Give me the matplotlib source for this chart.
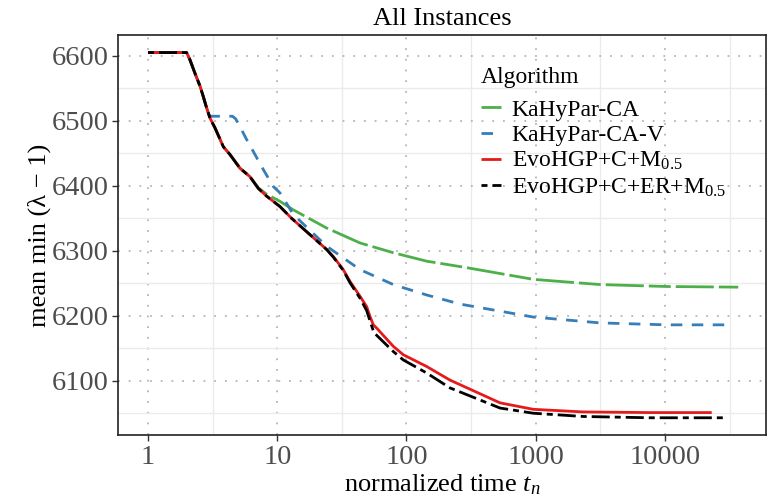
import matplotlib
matplotlib.use("Agg")
import matplotlib.pyplot as plt

plt.rcParams["font.family"] = ["Liberation Serif", "DejaVu Serif"]
plt.rcParams["mathtext.fontset"] = "custom"
plt.rcParams["mathtext.rm"] = "Liberation Serif"
plt.rcParams["mathtext.it"] = "Liberation Serif:italic"
plt.rcParams["mathtext.bf"] = "Liberation Serif:bold"
plt.rcParams["lines.scale_dashes"] = False

# ---- data: normalized time vs. mean min (lambda - 1) ----
ka_ca_t = [1.0, 1.99, 2.11, 2.31, 2.53, 2.68, 2.84, 3.02, 3.30, 3.83, 4.31, 5.15,
           6.15, 7.13, 8.28, 10.5, 13.3, 24.1, 43.7, 79, 143, 292, 958, 3140,
           10300, 36900]
ka_ca_v = [6605, 6605, 6594, 6573, 6553, 6537, 6520, 6504, 6489, 6460, 6448, 6427,
           6414, 6397, 6387, 6376, 6363, 6335, 6312, 6297, 6284, 6274, 6256, 6248,
           6245, 6244]

ka_cav_t = [1.0, 1.99, 2.11, 2.31, 2.53, 2.68, 2.84, 3.02, 4.5, 4.77, 5.15, 5.80,
            6.73, 7.80, 9.31, 10.5, 11.8, 13.3, 24.1, 43.7, 79, 143, 259, 958,
            3140, 10300, 31800]
ka_cav_v = [6605, 6605, 6594, 6573, 6553, 6537, 6520, 6507, 6507, 6503, 6491, 6471,
            6448, 6425, 6399, 6389, 6373, 6356, 6307, 6271, 6248, 6232, 6218, 6198,
            6189, 6186, 6186]

evo_m_t = [1.0, 1.99, 2.11, 2.31, 2.53, 2.68, 2.84, 3.02, 3.30, 3.83, 4.31, 5.15,
           6.15, 7.13, 8.28, 10.5, 12.9, 24.1, 27.2, 32.4, 36.5, 43.7, 49.2, 52.2,
           55.4, 58.8, 79, 94.5, 143, 217, 529, 958, 2330, 7660, 23000]
evo_m_v = [6605, 6605, 6594, 6573, 6553, 6537, 6520, 6504, 6489, 6460, 6448, 6427,
           6414, 6396, 6384, 6368, 6350, 6302, 6291, 6271, 6253, 6230, 6214, 6199,
           6186, 6181, 6153, 6140, 6122, 6101, 6066, 6056, 6052, 6051, 6051]

evo_er_t = [1.0, 1.99, 2.11, 2.31, 2.53, 2.68, 2.84, 3.02, 3.30, 3.83, 4.31, 5.15,
            6.15, 7.13, 8.28, 10.5, 12.9, 24.1, 27.2, 32.4, 36.5, 43.7, 49.2, 52.2,
            56.0, 79, 94.5, 143, 217, 529, 958, 2330, 7660, 30000]
evo_er_v = [6605, 6605, 6594, 6573, 6553, 6537, 6520, 6504, 6489, 6460, 6448, 6427,
            6414, 6396, 6384, 6368, 6350, 6302, 6290, 6270, 6251, 6227, 6208, 6192,
            6174, 6145, 6132, 6112, 6089, 6058, 6050, 6045, 6043, 6043]

labels = ["KaHyPar-CA", "KaHyPar-CA-V", r"EvoHGP+C+M$_{0.5}$", r"EvoHGP+C+ER+M$_{0.5}$"]
colors = ["#4DAF4A", "#377EB8", "#E41A1C", "#000000"]
dash_styles = [(0, (27.4, 3.6, 15.8, 3.6)), (0, (8.3, 6.8)), "solid", (0, (4.3, 3.6, 13.0, 3.6))]

x_ticks = [1, 10, 100, 1000, 10000]
x_tick_labels = ["1", "10", "100", "1000", "10000"]
x_minor = [10 ** (k + 0.5) for k in range(0, 5)]
y_ticks = [6100, 6200, 6300, 6400, 6500, 6600]
y_minor = [6050, 6150, 6250, 6350, 6450, 6550]

fig = plt.figure(figsize=(7.71, 4.99), dpi=100)
ax = fig.add_axes([118 / 771, 1 - 435 / 499, (766 - 118) / 771, (435 - 35) / 499])

series = [(ka_ca_t, ka_ca_v), (ka_cav_t, ka_cav_v), (evo_m_t, evo_m_v), (evo_er_t, evo_er_v)]
handles = []
for (t, v), lab, col, ls in zip(series, labels, colors, dash_styles):
    ln, = ax.plot(t, v, color=col, lw=2.0, linestyle=ls, solid_capstyle="butt",
                  dash_capstyle="butt", label=lab)
    handles.append(ln)

ax.set_xscale("log")
ax.set_xticks(x_ticks)
ax.set_xticklabels(x_tick_labels)
ax.set_xticks(x_minor, minor=True)
ax.set_yticks(y_ticks)
ax.set_yticks(y_minor, minor=True)
ax.set_xlim(0.586, 60500)
ax.set_ylim(6016.5, 6632)

ax.tick_params(which="minor", length=0)
ax.tick_params(which="major", length=4, width=1, color="#333333",
               labelsize=20.5, labelcolor="#4D4D4D", pad=3)

ax.grid(which="minor", color="#EBEBEB", lw=1.0, linestyle="solid")
ax.grid(which="major", color="#B5B5B5", lw=1.3, linestyle=(0, (1.3, 6.4)))
ax.set_axisbelow(True)

for s in ax.spines.values():
    s.set_color("#222222")
    s.set_linewidth(1.2)

ax.set_title("All Instances", fontsize=19, pad=7)
ax.set_xlabel(r"normalized time $t_n$", fontsize=19, labelpad=2)
ax.set_ylabel("mean min (λ − 1)", fontsize=19, labelpad=0)

fig.text(481 / 771, 1 - 78 / 499, "Algorithm", fontsize=17, ha="left", va="center")
ax.legend(handles=handles, labels=labels,
          loc="upper left", bbox_to_anchor=(481 / 771, 1 - 99 / 499),
          bbox_transform=fig.transFigure, frameon=False, fontsize=17,
          handlelength=0.85, handletextpad=0.45,
          labelspacing=0.17, borderpad=0, borderaxespad=0)

fig.savefig("out.png", dpi=100)
